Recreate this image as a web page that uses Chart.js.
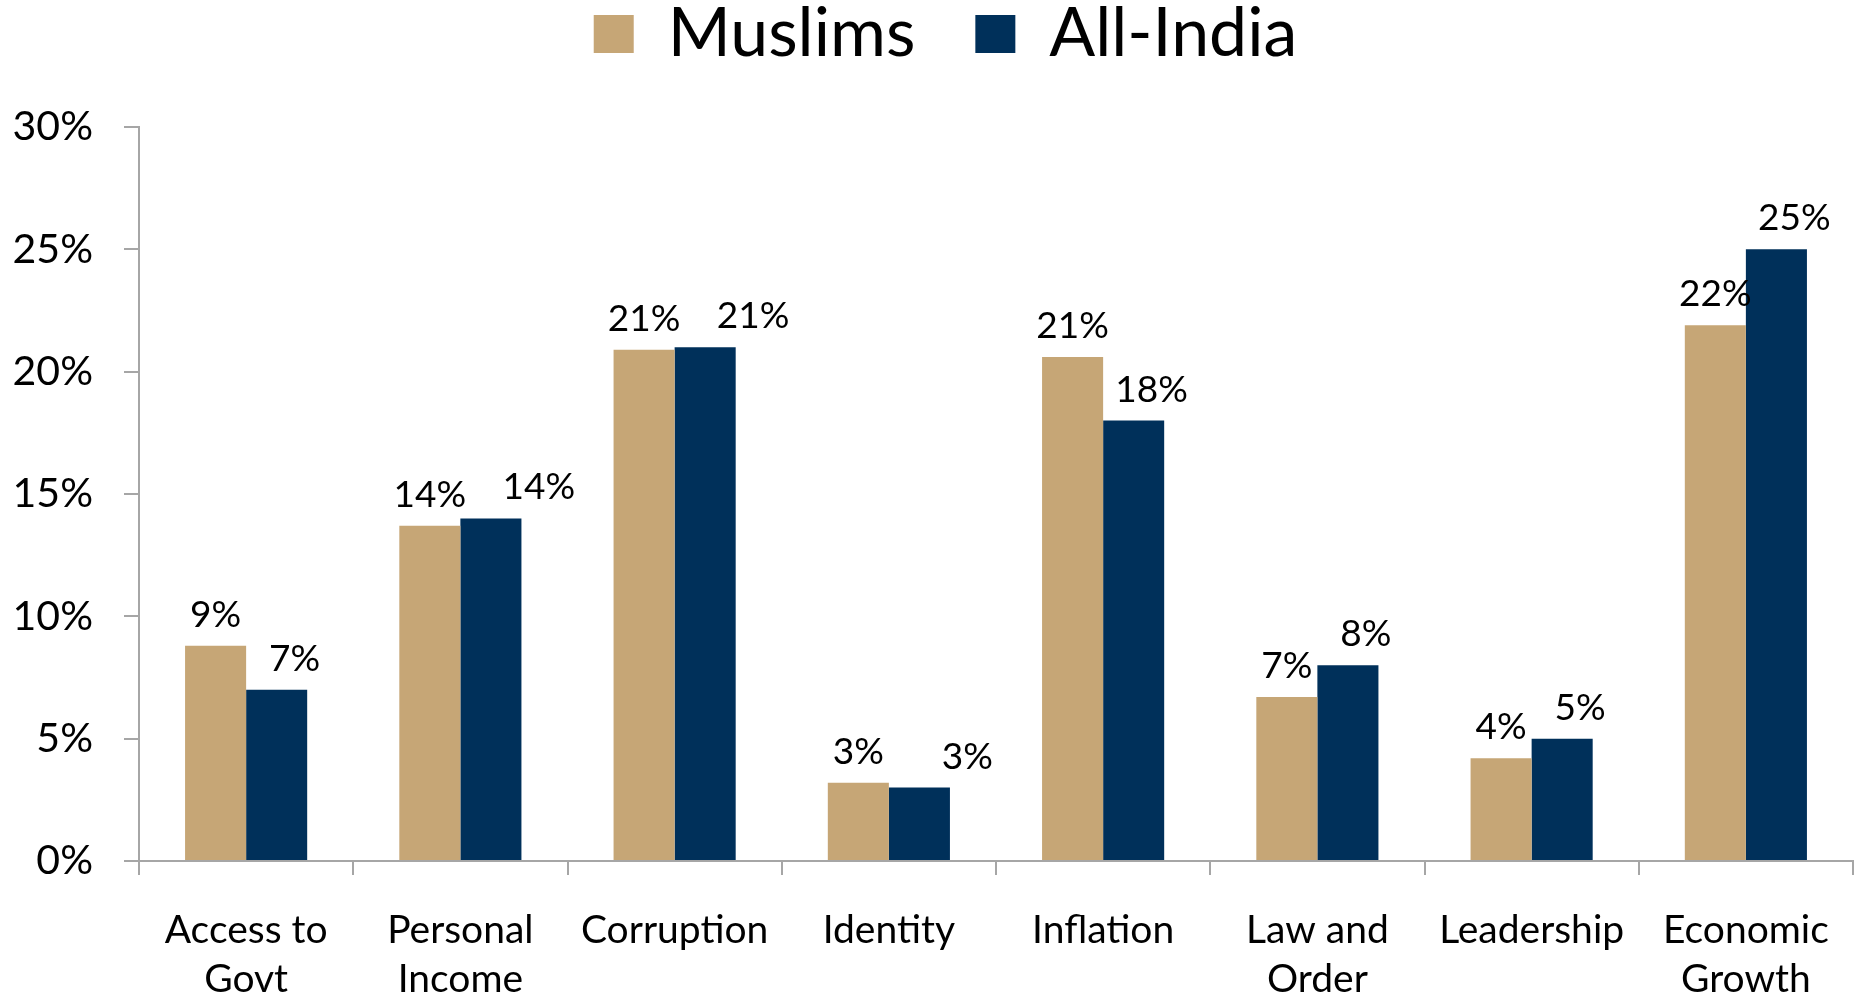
<!DOCTYPE html>
<html>
<head>
<meta charset="utf-8">
<script src="https://cdn.jsdelivr.net/npm/chart.js@4.4.1/dist/chart.umd.min.js"></script>
<style>
    body { margin: 0; background: #fff; }
    #wrap { width: 1863px; height: 999px; }
</style>
</head>
<body>
<div id="wrap"><canvas id="issuesChart"></canvas></div>
<script>
// Kategorije i vrednosti (procenti)
const categories = [['Access to', 'Govt'], ['Personal', 'Income'], 'Corruption', 'Identity', 'Inflation', ['Law and', 'Order'], 'Leadership', ['Economic', 'Growth']];
const muslims = [8.8, 13.7, 20.9, 3.2, 20.6, 6.7, 4.2, 21.9];
const allIndia = [7.0, 14.0, 21.0, 3.0, 18.0, 8.0, 5.0, 25.0];
const yTicks = [0, 5, 10, 15, 20, 25, 30];

const FONT = 'Lato';
const AXIS = '#A6A6A6';

// Natpisi iznad stubova
const valueLabels = {
    id: 'valueLabels',
    afterDatasetsDraw(chart) {
        const ctx = chart.ctx;
        const m = chart.getDatasetMeta(0).data;
        const a = chart.getDatasetMeta(1).data;
        ctx.save();
        ctx.font = '37px ' + FONT;
        ctx.fillStyle = '#000';
        ctx.textAlign = 'center';
        ctx.textBaseline = 'middle';
        m.forEach((bar, i) => {
            const yM = bar.y - 31;
            const yA = a[i].y - 31;
            // pomeri desni natpis kad se preklapa
            const dx = Math.abs(yM - yA) < 15 ? 48 : 18;
            ctx.fillText(Math.round(muslims[i]) + '%', bar.x, yM);
            ctx.fillText(Math.round(allIndia[i]) + '%', a[i].x + dx, yA);
        });
        ctx.restore();
    }
};

// Legenda: visina i pomeranje na vrh
const legendBox = {
    id: 'legendBox',
    beforeInit(chart) {
        const fit = chart.legend.fit;
        chart.legend.fit = function () {
            fit.bind(chart.legend)();
            this.height = 127;
        };
    },
    afterLayout(chart) {
        const lg = chart.legend;
        lg.top = 0 - lg.options.labels.padding;
        lg.height = lg.bottom - lg.top;
        lg.left += 19;
        lg.right += 19;
    }
};

const ctx = document.getElementById('issuesChart').getContext('2d');
const issuesChart = new Chart(ctx, {
    type: 'bar',
    data: {
        labels: categories,
        datasets: [
            { label: 'Muslims', data: muslims, backgroundColor: '#C6A676', borderWidth: 0 },
            { label: 'All-India', data: allIndia, backgroundColor: '#00305A', borderWidth: 0 }
        ]
    },
    options: {
        responsive: true,
        maintainAspectRatio: false,
        animation: false,
        events: [],
        layout: { padding: { left: 0, right: 10, top: 0, bottom: 0 } },
        datasets: { bar: { categoryPercentage: 0.57, barPercentage: 1.0 } },
        scales: {
            x: {
                afterFit: s => { s.height = 138; },
                grid: { offset: true, drawOnChartArea: false, drawTicks: true, tickLength: 14, color: AXIS, lineWidth: 2 },
                border: { color: AXIS, width: 2 },
                ticks: {
                    color: '#000',
                    font: { family: FONT, size: 39, lineHeight: 1.28 },
                    padding: 30,
                    maxRotation: 0,
                    autoSkip: false
                }
            },
            y: {
                min: 0,
                max: 30,
                afterBuildTicks: s => { s.ticks = yTicks.map(v => ({ value: v })); },
                afterFit: s => { s.width = 139; },
                grid: { drawOnChartArea: false, drawTicks: true, tickLength: 15, color: AXIS, lineWidth: 2 },
                border: { color: AXIS, width: 2 },
                ticks: {
                    color: '#000',
                    font: { family: FONT, size: 41 },
                    padding: 31,
                    callback: v => v + '%'
                }
            }
        },
        plugins: {
            legend: {
                position: 'top',
                labels: {
                    color: '#000',
                    font: { family: FONT, size: 68 },
                    boxWidth: 40,
                    boxHeight: 38,
                    padding: 60
                }
            },
            tooltip: { enabled: false }
        }
    },
    plugins: [valueLabels, legendBox]
});
</script>
</body>
</html>
